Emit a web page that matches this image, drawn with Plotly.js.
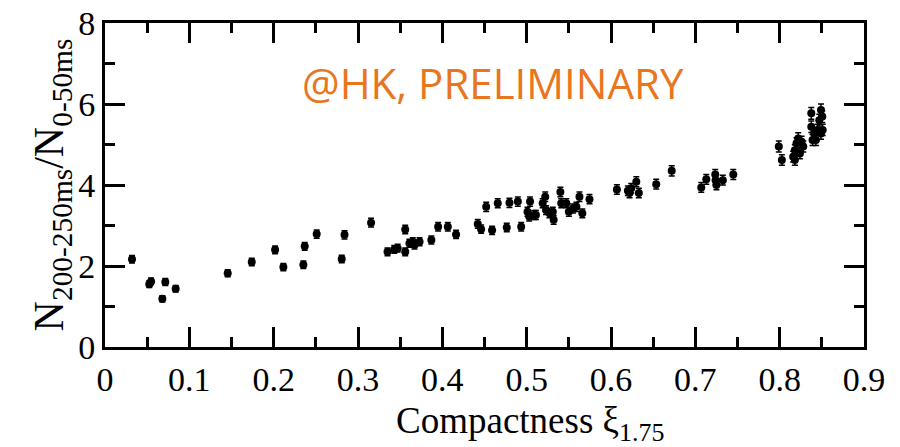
<!DOCTYPE html>
<html>
<head>
<meta charset="utf-8">
<script src="https://cdn.plot.ly/plotly-3.0.1.min.js"></script>
<style>html,body{margin:0;padding:0;background:#fff;}#chart{width:900px;height:447px;}</style>
</head>
<body>
<div id="chart"></div>
<script>
// Compactness xi_1.75
const compactness = [
  0.032, 0.0525, 0.0546, 0.0715, 0.068, 0.0838, 0.1455, 0.174, 0.2017, 0.2115,
  0.2368, 0.2352, 0.2807, 0.251, 0.284, 0.3155, 0.335, 0.343, 0.347, 0.356,
  0.356, 0.361, 0.367, 0.365, 0.373, 0.387, 0.395, 0.4065, 0.4163, 0.442,
  0.446, 0.452, 0.459, 0.4657, 0.4764, 0.4796, 0.4895, 0.4935, 0.504, 0.501,
  0.503, 0.509, 0.511, 0.522, 0.519, 0.523, 0.527, 0.531, 0.532, 0.540,
  0.541, 0.547, 0.550, 0.555, 0.559, 0.5626, 0.566, 0.5745, 0.607, 0.620,
  0.622, 0.624, 0.630, 0.633, 0.6536, 0.672, 0.707, 0.713, 0.7236, 0.724,
  0.725, 0.7326, 0.745, 0.799, 0.8026, 0.816, 0.818, 0.820, 0.822, 0.826,
  0.828, 0.824, 0.818, 0.8375, 0.8375, 0.839, 0.841, 0.843, 0.845, 0.847,
  0.849, 0.8505, 0.849, 0.851
];
// Ratio N(200-250ms)/N(0-50ms)
const ratio = [
  2.165, 1.55, 1.62, 1.605, 1.19, 1.44, 1.82, 2.10, 2.40, 1.975,
  2.486, 2.03, 2.17, 2.79, 2.77, 3.07, 2.35, 2.41, 2.44, 2.90,
  2.35, 2.56, 2.52, 2.60, 2.60, 2.64, 2.97, 2.97, 2.78, 3.04,
  2.91, 3.46, 2.88, 3.55, 2.95, 3.56, 3.59, 2.97, 3.59, 3.34,
  3.22, 3.26, 3.26, 3.71, 3.55, 3.38, 3.30, 3.34, 3.14, 3.83,
  3.55, 3.55, 3.34, 3.42, 3.46, 3.71, 3.30, 3.65, 3.89, 3.86,
  3.80, 3.92, 4.08, 3.80, 4.02, 4.35, 3.94, 4.14, 4.26, 4.12,
  4.00, 4.12, 4.26, 4.95, 4.62, 4.70, 4.86, 5.03, 5.15, 5.07,
  4.95, 4.78, 4.62, 5.77, 5.44, 5.11, 5.27, 5.11, 5.36, 5.60,
  5.85, 5.69, 5.27, 5.36
];
// statistical error on ratio
const ratioErr = ratio.map(v => 0.06 + 0.015 * v);

const xTickVals = [0, 0.1, 0.2, 0.3, 0.4, 0.5, 0.6, 0.7, 0.8, 0.9];
const xTickText = ["0", "0.1", "0.2", "0.3", "0.4", "0.5", "0.6", "0.7", "0.8", "0.9"];
const yTickVals = [0, 2, 4, 6, 8];
const yTickText = ["0", "2", "4", "6", "8"];

const serif = "Liberation Serif, Times New Roman, serif";

const trace = {
  x: compactness,
  y: ratio,
  type: "scatter",
  mode: "markers",
  marker: {color: "#000", size: 8, line: {width: 0}},
  error_y: {type: "data", array: ratioErr, visible: true, color: "#000", thickness: 1.5, width: 3},
  hoverinfo: "x+y"
};

const axisCommon = {
  showgrid: false,
  zeroline: false,
  showline: true,
  linecolor: "#000",
  linewidth: 3,
  mirror: "allticks",
  ticks: "inside",
  ticklen: 20,
  tickwidth: 3,
  tickcolor: "#000",
  tickfont: {family: serif, size: 34, color: "#000"}
};

const layout = {
  width: 900,
  height: 447,
  margin: {l: 105, r: 36, t: 23, b: 100},
  paper_bgcolor: "#fff",
  plot_bgcolor: "#fff",
  showlegend: false,
  xaxis: Object.assign({}, axisCommon, {
    range: [0, 0.9],
    tickmode: "array",
    tickvals: xTickVals,
    ticktext: xTickText,
    minor: {dtick: 0.05, ticks: "inside", ticklen: 10, tickwidth: 3, tickcolor: "#000", showgrid: false}
  }),
  yaxis: Object.assign({}, axisCommon, {
    range: [0, 8],
    tickmode: "array",
    tickvals: yTickVals,
    ticktext: yTickText,
    minor: {dtick: 1, ticks: "inside", ticklen: 10, tickwidth: 3, tickcolor: "#000", showgrid: false},
    title: {text: "N<sub>200-250ms</sub>/N<sub>0-50ms</sub>", font: {family: serif, size: 42, color: "#000"}, standoff: 2}
  }),
  annotations: [{
    x: 0.4606, y: 6.54, xref: "x", yref: "y",
    text: "@HK, PRELIMINARY",
    showarrow: false,
    font: {family: "Open Sans, Liberation Sans, sans-serif", size: 42, color: "#E8761E"}
  }, {
    x: 0.56, y: -0.235, xref: "paper", yref: "paper",
    xanchor: "center", yanchor: "middle",
    text: "Compactness ξ<sub>1.75</sub>",
    showarrow: false,
    font: {family: serif, size: 37, color: "#000"}
  }]
};

Plotly.newPlot("chart", [trace], layout, {displayModeBar: false, staticPlot: true});
</script>
</body>
</html>
